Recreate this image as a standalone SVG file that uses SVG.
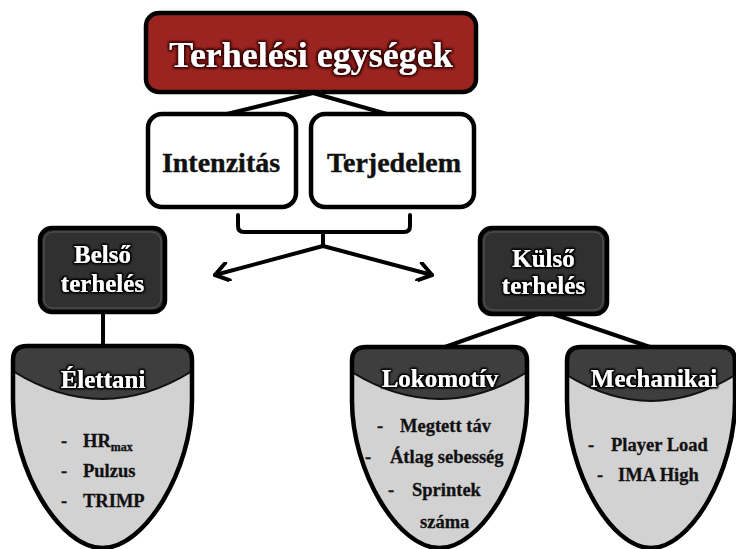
<svg xmlns="http://www.w3.org/2000/svg" width="736" height="549" viewBox="0 0 736 549">
<style>
.serif{font-family:"Liberation Serif","Times New Roman",serif;font-weight:bold}
.title{font-size:36px;fill:#fff}
.mid{font-size:28px;fill:#111;text-anchor:middle;stroke:#111;stroke-width:0.4}
.wt{font-size:25px;fill:#fff;text-anchor:middle}
.item{font-size:18.5px;fill:#111;stroke:#111;stroke-width:0.3}
.box{stroke:#000;stroke-width:4.5}
.conn{stroke:#000;stroke-width:4;fill:none;stroke-linecap:round;stroke-linejoin:round}
.body{fill:#d3d2d3}
.head{fill:#3e3e3e}
.outline{fill:none;stroke:#000;stroke-width:4.5}
.sep{fill:none;stroke:#111;stroke-width:2}
</style>
<defs>
<filter id="glow" x="-10%" y="-40%" width="120%" height="180%">
<feMorphology in="SourceAlpha" operator="dilate" radius="1" result="d"/>
<feGaussianBlur in="d" stdDeviation="1.3" result="b"/>
<feFlood flood-color="#000"/>
<feComposite in2="b" operator="in" result="s"/>
<feMerge><feMergeNode in="s"/><feMergeNode in="s"/><feMergeNode in="SourceGraphic"/></feMerge>
</filter>
<filter id="glowRed" x="-10%" y="-40%" width="120%" height="180%">
<feMorphology in="SourceAlpha" operator="dilate" radius="1.2" result="d"/>
<feGaussianBlur in="d" stdDeviation="1.5" result="b"/>
<feFlood flood-color="#3a0000"/>
<feComposite in2="b" operator="in" result="s"/>
<feMerge><feMergeNode in="s"/><feMergeNode in="s"/><feMergeNode in="SourceGraphic"/></feMerge>
</filter>
<marker id="chev" viewBox="0 0 20 20" refX="18" refY="10" markerWidth="20" markerHeight="20" markerUnits="userSpaceOnUse" orient="auto">
<path d="M5,1 L18,10 L5,19" fill="none" stroke="#000" stroke-width="4" stroke-linecap="round" stroke-linejoin="round"/>
</marker>
<path id="shapeE" d="M13,360 L13,400 C13,470 60,548 102.5,548 C145,548 192,470 192,400 L192,360 Q192,346 178,346 L27,346 Q13,346 13,360 Z"/>
<path id="shapeL" d="M352,361 L352,401 C352,471 397.5,548 439.5,548 C481.5,548 527,471 527,401 L527,361 Q527,347 513,347 L366,347 Q352,347 352,361 Z"/>
<path id="shapeM" d="M567,361 L567,401 C567,471 610.7,548 651,548 C691.3,548 735,471 735,401 L735,361 Q735,347 721,347 L581,347 Q567,347 567,361 Z"/>
<clipPath id="clipE"><use href="#shapeE"/></clipPath>
<clipPath id="clipL"><use href="#shapeL"/></clipPath>
<clipPath id="clipM"><use href="#shapeM"/></clipPath>
</defs>
<rect width="736" height="549" fill="#fff"/>

<g id="connectors" class="conn">
<path d="M313,93 L227,114"/>
<path d="M313,93 L387,114"/>
<path d="M238,215 L238,226 Q238,232 244,232 L404,232 Q410,232 410,226 L410,215"/>
<path d="M323,232 L323,246"/>
<path d="M323,246 L215,275" marker-end="url(#chev)"/>
<path d="M323,246 L432,275" marker-end="url(#chev)"/>
<path d="M103,312 L103,346"/>
<path d="M538,314 L445,347"/>
<path d="M553,314 L650,347"/>
</g>

<g id="node-terhelesi">
<rect class="box" x="146" y="13" width="330" height="79" rx="13" fill="#9b2420"/>
<text class="serif title" x="311" y="67" text-anchor="middle" filter="url(#glowRed)">Terhelési egységek</text>
</g>

<g id="node-intenzitas">
<rect class="box" x="148" y="114" width="148" height="93" rx="14" fill="#fff"/>
<text class="serif mid" x="221" y="172">Intenzitás</text>
</g>

<g id="node-terjedelem">
<rect class="box" x="311" y="114" width="163" height="93" rx="14" fill="#fff"/>
<text class="serif mid" x="394" y="172">Terjedelem</text>
</g>

<g id="node-belso">
<rect class="box" x="40" y="228" width="125" height="84" rx="12" fill="#303030"/>
<rect x="44" y="232" width="117" height="76" rx="9" fill="none" stroke="#5a5a5a" stroke-width="1"/>
<text class="serif wt" x="102.5" y="263" filter="url(#glow)">Belső</text>
<text class="serif wt" x="102.5" y="292" filter="url(#glow)">terhelés</text>
</g>

<g id="node-kulso">
<rect class="box" x="480" y="228" width="127" height="86" rx="12" fill="#303030"/>
<rect x="484" y="232" width="119" height="78" rx="9" fill="none" stroke="#5a5a5a" stroke-width="1"/>
<text class="serif wt" x="543.5" y="267" filter="url(#glow)">Külső</text>
<text class="serif wt" x="543.5" y="294" filter="url(#glow)">terhelés</text>
</g>

<g id="node-elettani">
<use href="#shapeE" class="body"/>
<g clip-path="url(#clipE)">
<path class="head" d="M8,340 L8,368 Q102.5,430 197,368 L197,340 Z"/>
<path class="sep" d="M8,368 Q102.5,430 197,368"/>
</g>
<use href="#shapeE" class="outline"/>
<text class="serif wt" x="103" y="388" filter="url(#glow)">Élettani</text>
<text class="serif item" x="61" y="447">-</text>
<text class="serif item" x="83" y="447">HR<tspan font-size="12" dy="4">max</tspan></text>
<text class="serif item" x="61" y="477">-</text>
<text class="serif item" x="83" y="477">Pulzus</text>
<text class="serif item" x="61" y="507">-</text>
<text class="serif item" x="83" y="507">TRIMP</text>
</g>

<g id="node-lokomotiv">
<use href="#shapeL" class="body"/>
<g clip-path="url(#clipL)">
<path class="head" d="M347,340 L347,369 Q439.5,429 532,369 L532,340 Z"/>
<path class="sep" d="M347,369 Q439.5,429 532,369"/>
</g>
<use href="#shapeL" class="outline"/>
<text class="serif wt" x="440" y="387" filter="url(#glow)">Lokomotív</text>
<text class="serif item" x="377" y="432">-</text>
<text class="serif item" x="400" y="432">Megtett táv</text>
<text class="serif item" x="365" y="463">-</text>
<text class="serif item" x="390" y="463">Átlag sebesség</text>
<text class="serif item" x="388" y="496">-</text>
<text class="serif item" x="412" y="496">Sprintek</text>
<text class="serif item" x="420" y="528">száma</text>
</g>

<g id="node-mechanikai">
<use href="#shapeM" class="body"/>
<g clip-path="url(#clipM)">
<path class="head" d="M562,340 L562,372 Q651,430 740,372 L740,340 Z"/>
<path class="sep" d="M562,372 Q651,430 740,372"/>
</g>
<use href="#shapeM" class="outline"/>
<text class="serif wt" x="654" y="387" filter="url(#glow)">Mechanikai</text>
<text class="serif item" x="588" y="451">-</text>
<text class="serif item" x="611" y="451">Player Load</text>
<text class="serif item" x="597" y="481">-</text>
<text class="serif item" x="618" y="481">IMA High</text>
</g>
</svg>
